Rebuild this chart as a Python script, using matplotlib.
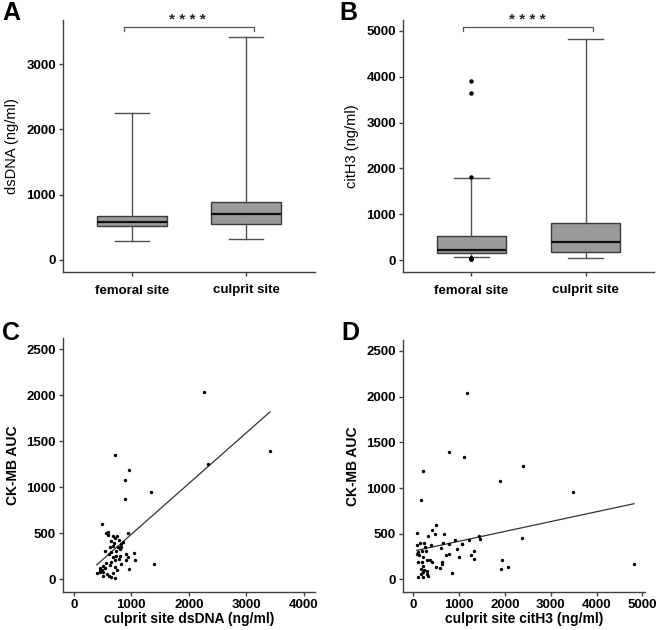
import numpy as np
import matplotlib
matplotlib.use('Agg')
import matplotlib.pyplot as plt

plt.rcParams['font.family'] = ['Liberation Sans', 'DejaVu Sans']

# --- data ---
sites = ['femoral site', 'culprit site']

# panel A: dsDNA box stats (whislo, q1, med, q3, whishi)
dsdna_femoral = [285, 525, 585, 675, 2250]
dsdna_culprit = [325, 555, 700, 890, 3415]

# panel B: citH3 box stats + outliers
cith3_femoral = [73, 150, 233, 540, 1785]
cith3_femoral_out = [3910, 3650, 1805, 20, 30, 40, 50]
cith3_culprit = [58, 175, 390, 820, 4810]
cith3_culprit_out = []

# panel C: culprit dsDNA vs CK-MB AUC
c_x = [956, 898, 1339, 898, 493, 568, 603, 591, 684, 725, 754, 945, 643, 701, 788,
       864, 829, 771, 684, 812, 539, 614, 655, 742, 1043, 916, 684, 742, 945, 1061,
       719, 788, 916, 655, 829, 568, 510, 464, 539, 638, 713, 754, 493, 400, 464,
       510, 614, 655, 713, 580, 684, 956, 1391, 829, 626, 464, 510, 800,
       2261, 2336, 3409, 725]
c_y = [1183, 1081, 950, 870, 600, 506, 513, 477, 473, 451, 466, 499, 411, 397, 426,
       408, 382, 346, 360, 324, 309, 280, 295, 309, 288, 273, 237, 251, 237, 207,
       207, 215, 207, 189, 171, 178, 142, 127, 127, 153, 135, 106, 106, 70, 80,
       33, 33, 26, 18, 62, 69, 113, 167, 353, 346, 98, 80, 258,
       2038, 1252, 1390, 1347]
c_fit = (0.552, -64)

# panel D: culprit citH3 vs CK-MB AUC
d_x = [1165, 786, 1107, 204, 2402, 1893, 3479, 161, 2366, 1907, 1944, 2075, 4818,
       73, 495, 401, 670, 313, 73, 146, 233, 386, 473, 655, 786, 910, 1056, 1216,
       1442, 1456, 110, 182, 277, 131, 204, 292, 110, 197, 219, 168, 233, 292, 160,
       219, 306, 110, 219, 313, 401, 488, 619, 619, 583, 714, 786, 604, 947, 998,
       1070, 1252, 1332, 1325, 837, 364, 73, 255]
d_y = [2037, 1393, 1342, 1189, 1244, 1080, 953, 873, 454, 109, 207, 134, 171,
       509, 596, 542, 498, 473, 371, 400, 396, 378, 498, 396, 389, 433, 389, 436,
       476, 447, 298, 309, 309, 262, 243, 214, 189, 189, 152, 116, 105, 91, 61,
       80, 61, 25, 25, 32, 189, 141, 189, 170, 123, 269, 280, 345, 334, 243,
       389, 272, 309, 225, 69, 207, 280, 353]
d_fit = (0.1076, 310)

W, H = 658, 630
fig = plt.figure(figsize=(W / 100, H / 100), dpi=100)


def px_axes(x0, y0, x1, y1):
    return fig.add_axes([x0 / W, 1 - y1 / H, (x1 - x0) / W, (y1 - y0) / H])


def style(ax):
    for s in ['top', 'right']:
        ax.spines[s].set_visible(False)
    for s in ['left', 'bottom']:
        ax.spines[s].set_color('#404040')
        ax.spines[s].set_linewidth(1.0)
    ax.tick_params(direction='out', length=3, width=1, color='#404040', pad=2,
                   labelsize=9.5)
    for lab in ax.get_xticklabels() + ax.get_yticklabels():
        lab.set_fontweight('bold')


def box_panel(ax, fem, cul, fem_out, cul_out, ylabel, ylim, yticks, bracket_y, tick_drop):
    stats = []
    for name, s, out in [(sites[0], fem, fem_out), (sites[1], cul, cul_out)]:
        stats.append(dict(label=name, whislo=s[0], q1=s[1], med=s[2], q3=s[3],
                          whishi=s[4], fliers=out))
    ax.bxp(stats, positions=[0, 1], widths=0.61, capwidths=0.30, patch_artist=True,
           boxprops=dict(facecolor='#9a9a9a', edgecolor='#3a3a3a', linewidth=1.0),
           medianprops=dict(color='#111111', linewidth=1.6),
           whiskerprops=dict(color='#505050', linewidth=1.0),
           capprops=dict(color='#505050', linewidth=1.0),
           flierprops=dict(marker='o', markersize=2.2, markerfacecolor='black',
                           markeredgecolor='black'))
    ax.set_xlim(-0.6, 1.6)
    ax.set_ylim(*ylim)
    ax.set_yticks(yticks)
    ax.set_ylabel(ylabel, fontsize=10.5, labelpad=5)
    style(ax)
    ax.tick_params(axis='x', labelsize=9.5, pad=6)
    for lab in ax.get_xticklabels():
        lab.set_fontweight('bold')
    # significance bracket
    ax.plot([-0.07, -0.07, 1.065, 1.065],
            [bracket_y - tick_drop, bracket_y, bracket_y, bracket_y - tick_drop],
            color='#555555', lw=0.9, clip_on=False)
    ax.text(0.49, bracket_y, '* * * *', ha='center', va='bottom', fontsize=11,
            fontweight='bold', color='#2a2a2a')


def scatter_panel(ax, x, y, fit, xlabel, xlim, xticks):
    ax.scatter(x, y, s=6, color='black', linewidths=0, zorder=3)
    xs = np.array([min(x), max(x)])
    ax.plot(xs, fit[0] * xs + fit[1], color='#333333', lw=0.9)
    ax.set_xlim(*xlim)
    ax.set_ylim(-138, 2620)
    ax.set_xticks(xticks)
    ax.set_yticks([0, 500, 1000, 1500, 2000, 2500])
    ax.set_xlabel(xlabel, fontsize=10, fontweight='bold', labelpad=1)
    ax.set_ylabel('CK-MB AUC', fontsize=10, fontweight='bold', labelpad=5)
    style(ax)


axA = px_axes(63, 20, 315, 272)
box_panel(axA, dsdna_femoral, dsdna_culprit, [], [], 'dsDNA (ng/ml)',
          (-184, 3675), [0, 1000, 2000, 3000], 3573, 60)

axB = px_axes(403, 20, 654, 272)
box_panel(axB, cith3_femoral, cith3_culprit, cith3_femoral_out, cith3_culprit_out,
          'citH3 (ng/ml)', (-254, 5233), [0, 1000, 2000, 3000, 4000, 5000], 5086, 85)

axC = px_axes(63, 338, 315, 592)
scatter_panel(axC, c_x, c_y, c_fit, 'culprit site dsDNA (ng/ml)', (-186, 4191),
              [0, 1000, 2000, 3000, 4000])

axD = px_axes(403, 340, 645, 592)
scatter_panel(axD, d_x, d_y, d_fit, 'culprit site citH3 (ng/ml)', (-226, 5058),
              [0, 1000, 2000, 3000, 4000, 5000])

for letter, (x, y) in zip('ABCD', [(2, 1), (339, 1), (2, 321), (341, 321)]):
    fig.text(x / W, 1 - y / H, letter, fontsize=18, fontweight='bold', va='top', ha='left')

fig.savefig('out.png', dpi=100)
